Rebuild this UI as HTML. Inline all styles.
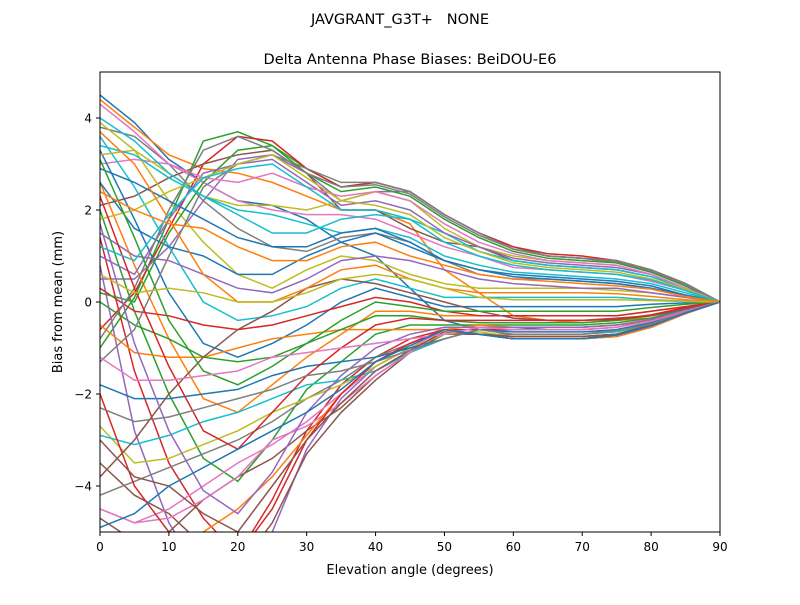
<!DOCTYPE html>
<html><head><meta charset="utf-8"><style>
body{margin:0;background:#fff;font-family:"Liberation Sans","DejaVu Sans",sans-serif}
svg text{font-family:"DejaVu Sans","Liberation Sans",sans-serif}
</style></head><body>
<svg id="chart" width="800" height="600" xmlns="http://www.w3.org/2000/svg">
<rect width="800" height="600" fill="#fff"/>
<text x="400" y="24" text-anchor="middle" font-size="14.5" style="white-space:pre">JAVGRANT_G3T+   NONE</text>
<text x="410" y="64" text-anchor="middle" font-size="14.5">Delta Antenna Phase Biases: BeiDOU-E6</text>
<defs><clipPath id="clip"><rect x="100" y="72" width="620" height="460"/></clipPath></defs>
<g id="lines" clip-path="url(#clip)"></g>
<rect x="100" y="72" width="620" height="460" fill="none" stroke="#000" stroke-width="1"/>
<g id="axes"></g>
<text x="410" y="574" text-anchor="middle" font-size="13">Elevation angle (degrees)</text>
<text transform="translate(62,302) rotate(-90)" text-anchor="middle" font-size="13">Bias from mean (mm)</text>
</svg>
<script>
const elevations=[0,5,10,15,20,25,30,35,40,45,50,55,60,65,70,75,80,85,90];
const xTicks=[0,10,20,30,40,50,60,70,80,90];
const yTicks=[-4,-2,0,2,4];
const s01=[4.5,3.9,3.1,2.6,2.2,2.1,1.8,1.3,1.0,0.3,-0.4,-0.6,-0.6,-0.55,-0.55,-0.5,-0.4,-0.2,0];
const s02=[4.4,3.8,3.2,2.9,2.8,2.6,2.3,2.0,2.0,1.7,0.7,0.2,-0.3,-0.4,-0.45,-0.4,-0.35,-0.2,0];
const s03=[-1.0,0.1,1.8,3.5,3.7,3.4,2.9,2.5,2.6,2.4,1.9,1.5,1.2,1.0,0.95,0.9,0.7,0.4,0];
const s04=[-0.6,0.2,1.6,3.0,3.6,3.5,2.9,2.5,2.6,2.4,1.9,1.5,1.2,1.05,1.0,0.9,0.7,0.4,0];
const s05=[0.5,0.5,1.2,2.2,3.1,3.2,2.8,2.2,2.4,2.4,1.9,1.5,1.15,1.0,0.95,0.85,0.65,0.35,0];
const s06=[2.1,2.3,2.7,3.0,3.2,3.3,2.8,2.0,2.0,1.6,1.3,1.2,0.9,0.8,0.75,0.7,0.55,0.3,0];
const s07=[3.0,3.1,3.0,2.6,2.2,2.0,1.9,1.9,1.8,1.5,1.2,1.0,0.75,0.7,0.65,0.6,0.45,0.25,0];
const s08=[3.8,3.6,3.0,2.2,1.6,1.2,1.1,1.4,1.5,1.3,0.9,0.6,0.5,0.5,0.45,0.4,0.3,0.15,0];
const s09=[3.9,3.3,2.2,1.3,0.6,0.3,0.7,1.0,0.9,0.6,0.4,0.3,0.3,0.3,0.3,0.25,0.2,0.1,0];
const s10=[3.6,2.5,1.2,0.0,-0.4,-0.3,-0.1,0.3,0.5,0.3,0.1,0.1,0.1,0.1,0.1,0.1,0.05,0.02,0];
const s11=[3.3,1.8,0.2,-0.9,-1.2,-0.9,-0.5,0.0,0.3,0.1,-0.1,-0.1,-0.1,-0.1,-0.1,-0.1,-0.05,-0.02,0];
const s12=[2.6,0.8,-0.8,-2.1,-2.4,-1.8,-1.2,-0.7,-0.2,-0.2,-0.3,-0.3,-0.3,-0.3,-0.3,-0.3,-0.2,-0.1,0];
const s13=[2.0,-0.2,-2.0,-3.4,-3.9,-3.0,-1.9,-1.3,-0.7,-0.5,-0.5,-0.5,-0.5,-0.5,-0.5,-0.45,-0.35,-0.15,0];
const s14=[1.4,-1.5,-3.5,-4.7,-5.5,-4.3,-2.8,-1.8,-1.2,-0.8,-0.6,-0.6,-0.6,-0.6,-0.6,-0.55,-0.4,-0.2,0];
const s15=[0.8,-2.8,-4.8,-6,-6,-5,-3.2,-2.1,-1.4,-1.0,-0.7,-0.7,-0.7,-0.7,-0.7,-0.6,-0.45,-0.2,0];
const s16=[-3.5,-4.2,-4.6,-5.3,-5.8,-4.8,-3.3,-2.4,-1.7,-1.1,-0.7,-0.7,-0.75,-0.75,-0.75,-0.7,-0.5,-0.2,0];
const s17=[-4.5,-4.8,-4.5,-4.0,-3.5,-3.1,-2.6,-2.0,-1.4,-1.0,-0.6,-0.7,-0.8,-0.8,-0.8,-0.75,-0.55,-0.25,0];
const s18=[-4.2,-3.9,-3.6,-3.3,-3.0,-2.6,-2.1,-1.7,-1.2,-0.9,-0.6,-0.7,-0.8,-0.8,-0.8,-0.7,-0.55,-0.25,0];
const s19=[-2.7,-3.5,-3.4,-3.1,-2.8,-2.4,-2.1,-1.8,-1.4,-1.0,-0.7,-0.65,-0.75,-0.75,-0.75,-0.7,-0.5,-0.25,0];
const s20=[-2.9,-3.1,-2.9,-2.6,-2.4,-2.1,-1.8,-1.7,-1.5,-1.1,-0.8,-0.6,-0.7,-0.7,-0.7,-0.65,-0.5,-0.2,0];
const s21=[-1.8,-2.1,-2.1,-2.0,-1.9,-1.6,-1.4,-1.3,-1.2,-1.0,-0.8,-0.6,-0.65,-0.65,-0.65,-0.6,-0.45,-0.2,0];
const s22=[-0.5,-1.1,-1.2,-1.2,-1.0,-0.8,-0.7,-0.6,-0.6,-0.6,-0.6,-0.5,-0.55,-0.55,-0.55,-0.5,-0.4,-0.2,0];
const s23=[0.0,-0.5,-0.8,-1.2,-1.3,-1.2,-0.9,-0.6,-0.3,-0.3,-0.4,-0.45,-0.45,-0.45,-0.45,-0.4,-0.3,-0.15,0];
const s24=[0.3,-0.2,-0.3,-0.5,-0.6,-0.5,-0.3,-0.1,0.1,0.0,-0.2,-0.3,-0.3,-0.3,-0.3,-0.3,-0.2,-0.1,0];
const s25=[1.5,1.0,0.9,0.6,0.3,0.2,0.5,0.9,1.0,0.9,0.7,0.5,0.4,0.35,0.3,0.3,0.2,0.1,0];
const s26=[-4.7,-5.2,-5.0,-4.3,-3.8,-3.4,-2.8,-2.3,-1.6,-1.1,-0.6,-0.7,-0.8,-0.8,-0.8,-0.75,-0.55,-0.25,0];
const s27=[-4.5,-4.8,-4.7,-4.3,-3.8,-3.0,-2.7,-2.2,-1.6,-1.1,-0.6,-0.7,-0.8,-0.8,-0.8,-0.75,-0.55,-0.25,0];
const s28=[-1.3,-0.6,1.0,2.5,3.0,3.2,2.9,2.6,2.6,2.4,1.9,1.5,1.15,1.0,0.95,0.9,0.7,0.4,0];
const s29=[3.2,3.3,2.8,2.3,2.1,2.1,2.0,2.2,2.4,2.2,1.6,1.2,1.0,0.9,0.85,0.8,0.6,0.3,0];
const s30=[4.0,3.5,2.8,2.3,1.9,1.5,1.5,1.8,1.9,1.8,1.5,1.1,0.9,0.8,0.75,0.7,0.55,0.3,0];
const s31=[2.6,1.6,1.2,1.0,0.6,0.6,1.0,1.3,1.5,1.2,0.9,0.7,0.6,0.55,0.5,0.45,0.35,0.15,0];
const s32=[-5.5,-5.5,-5.2,-5.0,-4.5,-3.8,-2.9,-2.0,-1.3,-0.9,-0.6,-0.7,-0.8,-0.8,-0.8,-0.75,-0.55,-0.25,0];
const s33=[0.2,0.0,1.5,2.6,3.3,3.4,2.8,2.4,2.5,2.3,1.8,1.4,1.1,0.95,0.9,0.85,0.65,0.35,0];
const s34=[-2.0,-4.0,-5.0,-5.5,-5.5,-4.5,-3.0,-2.0,-1.3,-0.9,-0.6,-0.7,-0.75,-0.75,-0.75,-0.7,-0.5,-0.2,0];
const s35=[1.0,0.6,1.8,2.8,3.0,3.1,2.6,2.1,2.2,2.0,1.5,1.2,0.95,0.85,0.8,0.75,0.6,0.3,0];
const s36=[-3.8,-3.0,-2.0,-1.2,-0.6,-0.2,0.3,0.5,0.4,0.2,0.0,-0.2,-0.35,-0.4,-0.4,-0.35,-0.3,-0.15,0];
const s37=[4.3,3.7,3.0,2.7,2.6,2.8,2.5,2.3,2.4,2.2,1.7,1.3,1.05,0.9,0.85,0.8,0.6,0.3,0];
const s38=[-0.8,0.3,2.0,3.3,3.6,3.3,2.8,2.5,2.55,2.35,1.85,1.45,1.15,1.0,0.95,0.88,0.68,0.38,0];
const s39=[1.8,2.0,2.4,2.7,3.0,3.2,2.7,2.2,2.1,1.9,1.4,1.1,0.85,0.75,0.7,0.65,0.5,0.28,0];
const s40=[3.4,3.2,2.7,2.3,2.0,1.9,1.7,1.5,1.6,1.4,1.0,0.8,0.65,0.6,0.55,0.5,0.4,0.2,0];
const s41=[2.9,2.6,2.2,1.8,1.4,1.2,1.2,1.5,1.6,1.3,0.9,0.7,0.55,0.5,0.45,0.4,0.3,0.15,0];
const s42=[3.7,3.0,1.8,0.6,0.0,0.0,0.3,0.7,0.8,0.5,0.3,0.2,0.2,0.2,0.2,0.18,0.12,0.05,0];
const s43=[3.1,1.4,-0.4,-1.5,-1.8,-1.4,-0.9,-0.4,0.0,-0.1,-0.2,-0.2,-0.2,-0.2,-0.2,-0.2,-0.12,-0.05,0];
const s44=[2.3,0.3,-1.4,-2.8,-3.2,-2.4,-1.6,-1.0,-0.5,-0.35,-0.4,-0.4,-0.4,-0.4,-0.4,-0.38,-0.28,-0.12,0];
const s45=[1.7,-0.9,-2.8,-4.1,-4.6,-3.7,-2.4,-1.6,-1.0,-0.7,-0.55,-0.55,-0.55,-0.55,-0.55,-0.5,-0.38,-0.18,0];
const s46=[-3.0,-3.8,-4.0,-4.6,-5.0,-4.0,-3.0,-2.2,-1.5,-1.05,-0.65,-0.7,-0.75,-0.75,-0.75,-0.7,-0.5,-0.22,0];
const s47=[-1.2,-1.7,-1.7,-1.6,-1.5,-1.2,-1.1,-1.0,-0.9,-0.8,-0.7,-0.55,-0.6,-0.6,-0.6,-0.55,-0.42,-0.2,0];
const s48=[-2.3,-2.6,-2.5,-2.3,-2.1,-1.9,-1.6,-1.5,-1.3,-1.05,-0.8,-0.6,-0.7,-0.7,-0.7,-0.62,-0.48,-0.22,0];
const s49=[0.6,0.2,0.3,0.2,0.0,0.0,0.2,0.5,0.6,0.5,0.3,0.1,0.05,0.05,0.05,0.05,0.03,0.01,0];
const s50=[1.2,0.9,1.9,2.7,2.9,3.0,2.5,2.0,2.0,1.8,1.3,1.0,0.8,0.7,0.65,0.6,0.48,0.25,0];
const s51=[-4.9,-4.6,-4.0,-3.6,-3.2,-2.8,-2.4,-1.9,-1.3,-0.95,-0.6,-0.7,-0.8,-0.8,-0.8,-0.72,-0.52,-0.24,0];
const s52=[2.4,2.0,1.7,1.6,1.2,0.9,0.9,1.2,1.3,1.0,0.8,0.6,0.5,0.45,0.4,0.35,0.28,0.12,0];
const series=[s01,s02,s03,s04,s05,s06,s07,s08,s09,s10,s11,s12,s13,s14,s15,s16,s17,s18,s19,s20,s21,s22,s23,s24,s25,s26,s27,s28,s29,s30,s31,s32,s33,s34,s35,s36,s37,s38,s39,s40,s41,s42,s43,s44,s45,s46,s47,s48,s49,s50,s51,s52];
const colors=['#1f77b4','#ff7f0e','#2ca02c','#d62728','#9467bd','#8c564b','#e377c2','#7f7f7f','#bcbd22','#17becf'];
const NS='http://www.w3.org/2000/svg';
function xs(v){return 100+(v/90)*620;}
function ys(v){return 302-v*46;}
const g=document.getElementById('lines');
series.forEach((s,i)=>{
  const p=document.createElementNS(NS,'polyline');
  p.setAttribute('points',s.map((v,j)=>xs(elevations[j])+','+ys(v)).join(' '));
  p.setAttribute('fill','none');p.setAttribute('stroke',colors[i%10]);p.setAttribute('stroke-width','1.5');
  
  
  g.appendChild(p);
});
const ax=document.getElementById('axes');
xTicks.forEach(t=>{
  const l=document.createElementNS(NS,'line');
  l.setAttribute('x1',xs(t));l.setAttribute('x2',xs(t));l.setAttribute('y1',532);l.setAttribute('y2',536);l.setAttribute('stroke','#000');
  
  
  ax.appendChild(l);
  const tx=document.createElementNS(NS,'text');
  tx.setAttribute('x',xs(t));tx.setAttribute('y',551);tx.setAttribute('text-anchor','middle');tx.setAttribute('font-size','12');
  tx.textContent=t;
  
  
  ax.appendChild(tx);
});
yTicks.forEach(t=>{
  const l=document.createElementNS(NS,'line');
  l.setAttribute('x1',96);l.setAttribute('x2',100);l.setAttribute('y1',ys(t));l.setAttribute('y2',ys(t));l.setAttribute('stroke','#000');
  
  
  ax.appendChild(l);
  const tx=document.createElementNS(NS,'text');
  tx.setAttribute('x',92);tx.setAttribute('y',ys(t)+4.5);tx.setAttribute('text-anchor','end');tx.setAttribute('font-size','12');
  tx.textContent=t<0?'\u2212'+Math.abs(t):t;
  
  
  ax.appendChild(tx);
});
</script>
</body></html>
